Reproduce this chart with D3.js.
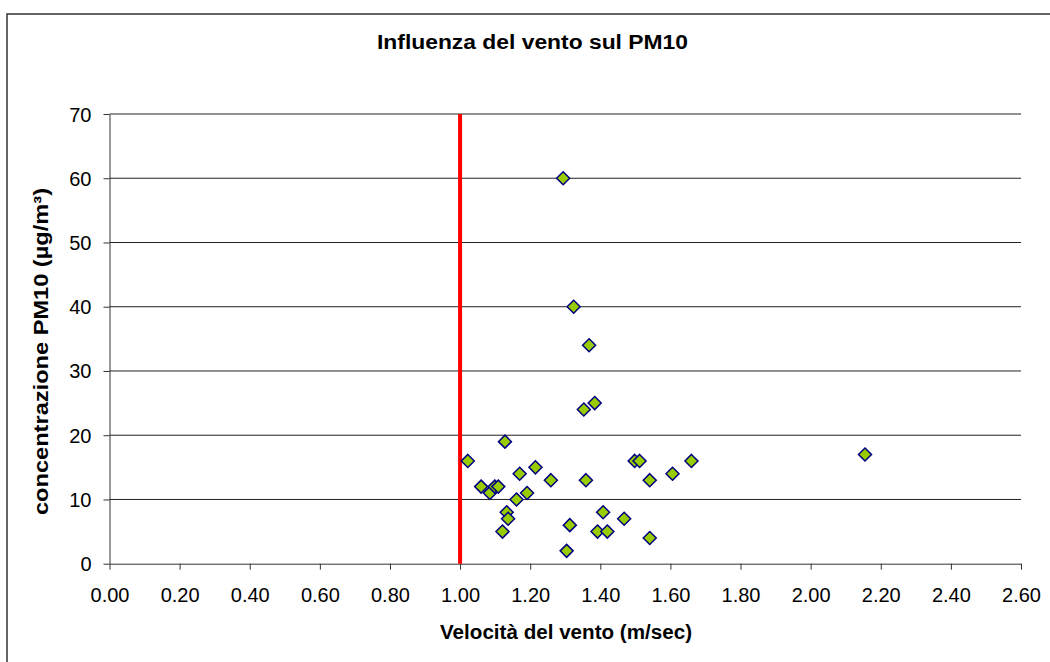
<!DOCTYPE html>
<html>
<head>
<meta charset="utf-8">
<script src="https://cdn.jsdelivr.net/npm/d3@7"></script>
<style>
  body { margin: 0; background: #fff; }
  text { font-family: "Liberation Sans", Arial, sans-serif; fill: #000; }
</style>
</head>
<body>
<div id="chart"></div>
<script>
// wind speed (m/sec) and PM10 concentration (ug/m3)
const windSpeed = [1.022, 1.128, 1.060, 1.085, 1.099, 1.109, 1.170, 1.215, 1.259, 1.161, 1.191,
  1.133, 1.137, 1.121, 1.313, 1.304, 1.359, 1.408, 1.392, 1.420, 1.468, 1.541, 1.541,
  1.498, 1.512, 1.606, 1.660, 1.353, 1.384, 1.294, 1.324, 1.368, 2.155];
const pm10 = [16, 19, 12, 11, 12, 12, 14, 15, 13, 10, 11,
  8, 7, 5, 6, 2, 13, 8, 5, 5, 7, 4, 13,
  16, 16, 14, 16, 24, 25, 60, 40, 34, 17];
const xTicks = [0, 0.2, 0.4, 0.6, 0.8, 1.0, 1.2, 1.4, 1.6, 1.8, 2.0, 2.2, 2.4, 2.6];
const yTicks = [0, 10, 20, 30, 40, 50, 60, 70];
const threshold = 1.0;

const width = 1050;
const height = 662;
const margin = { top: 114, right: 29, bottom: 98, left: 109.5 };

const svg = d3.select('#chart')
  .append('svg')
  .attr('width', width)
  .attr('height', height);

// outer chart frame
svg.append('rect')
  .attr('x', 7).attr('y', 14)
  .attr('width', 1100).attr('height', 700)
  .attr('fill', 'none')
  .attr('stroke', '#333')
  .attr('stroke-width', 1.5);

const x = d3.scaleLinear()
  .domain([0, 2.6])
  .range([margin.left, width - margin.right]);

const y = d3.scaleLinear()
  .domain([0, 70])
  .range([height - margin.bottom - 0.3, margin.top]);

// gridlines
svg.append('g')
  .selectAll('line')
  .data(yTicks.filter(d => d > 0))
  .join('line')
  .attr('x1', x(0))
  .attr('x2', x(2.6))
  .attr('y1', d => y(d))
  .attr('y2', d => y(d))
  .attr('stroke', '#222')
  .attr('stroke-width', 1);

// axes
const xAxis = svg.append('g')
  .attr('transform', `translate(0,${y(0)})`)
  .call(d3.axisBottom(x).tickValues(xTicks).tickFormat(d3.format('.2f')).tickSize(6).tickSizeOuter(0));

const yAxis = svg.append('g')
  .attr('transform', `translate(${x(0)},0)`)
  .call(d3.axisLeft(y).tickValues(yTicks).tickSize(6).tickSizeOuter(0));

[xAxis, yAxis].forEach(g => {
  g.attr('font-size', 20).attr('font-family', '"Liberation Sans", Arial, sans-serif');
  g.select('.domain').attr('stroke', '#333');
  g.selectAll('.tick line').attr('stroke', '#333');
  g.selectAll('.tick text').attr('fill', '#000');
});
xAxis.selectAll('.tick text').attr('y', 38).attr('dy', 0);
yAxis.selectAll('.tick text').attr('x', -18).attr('dy', '0.35em');

// red threshold line
svg.append('line')
  .attr('x1', x(threshold))
  .attr('x2', x(threshold))
  .attr('y1', y(0))
  .attr('y2', y(70))
  .attr('stroke', '#ff0000')
  .attr('stroke-width', 4);

// diamond markers
const points = windSpeed.map((v, i) => ({ x: v, y: pm10[i] }));
const r = 6.5;
svg.append('g')
  .selectAll('path')
  .data(points)
  .join('path')
  .attr('d', d => {
    const cx = x(d.x), cy = y(d.y);
    return `M${cx},${cy - r}L${cx + r},${cy}L${cx},${cy + r}L${cx - r},${cy}Z`;
  })
  .attr('fill', '#99cc00')
  .attr('stroke', '#000080')
  .attr('stroke-width', 1.5);

// titles (stretched a bit like the original picture)
svg.append('text')
  .attr('x', 532.5)
  .attr('y', 49)
  .attr('text-anchor', 'middle')
  .attr('font-size', 20)
  .attr('font-weight', 'bold')
  .attr('textLength', 311)
  .attr('lengthAdjust', 'spacingAndGlyphs')
  .text('Influenza del vento sul PM10');

svg.append('text')
  .attr('x', 566)
  .attr('y', 639)
  .attr('text-anchor', 'middle')
  .attr('font-size', 20)
  .attr('font-weight', 'bold')
  .attr('textLength', 252)
  .attr('lengthAdjust', 'spacingAndGlyphs')
  .text('Velocità del vento (m/sec)');

svg.append('text')
  .attr('transform', 'translate(48,351.5) rotate(-90)')
  .attr('text-anchor', 'middle')
  .attr('font-size', 20)
  .attr('font-weight', 'bold')
  .attr('textLength', 327)
  .attr('lengthAdjust', 'spacingAndGlyphs')
  .text('concentrazione PM10 (µg/m³)');
</script>
</body>
</html>
